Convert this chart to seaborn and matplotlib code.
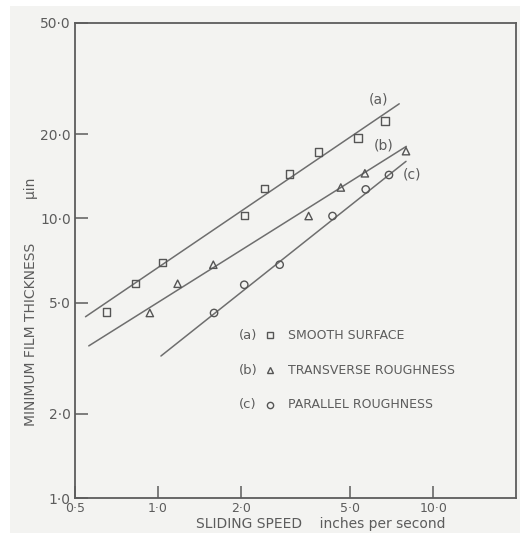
import matplotlib
matplotlib.use("Agg")
import matplotlib.pyplot as plt
from matplotlib.patches import Rectangle
from matplotlib.ticker import FixedLocator, NullLocator
import numpy as np
import pandas as pd
import seaborn as sns

# Measured points: sliding speed (in/s) and minimum film thickness (µin)
speed_smooth = [0.65, 0.83, 1.04, 2.06, 2.44, 3.0, 3.84, 5.33, 6.68]
thick_smooth = [4.63, 5.84, 6.95, 10.25, 12.8, 14.4, 17.3, 19.4, 22.3]
speed_trans = [0.935, 1.18, 1.59, 3.53, 4.62, 5.65, 7.97]
thick_trans = [4.59, 5.84, 6.83, 10.2, 12.9, 14.5, 17.4]
speed_para = [1.60, 2.06, 2.77, 4.31, 5.69, 6.91]
thick_para = [4.59, 5.79, 6.83, 10.2, 12.7, 14.3]

# Straight-line fits (end points) for each surface
fit_a_speed = [0.546, 7.53]
fit_a_thick = [4.45, 25.7]
fit_b_speed = [0.561, 7.99]
fit_b_thick = [3.50, 18.1]
fit_c_speed = [1.026, 7.97]
fit_c_thick = [3.22, 16.0]

x_ticks = [0.5, 1.0, 2.0, 5.0, 10.0]
x_tick_labels = ["0·5", "1·0", "2·0", "5·0", "10·0"]
y_ticks = [1.0, 2.0, 5.0, 10.0, 20.0, 50.0]
y_tick_labels = ["1·0", "2·0", "5·0", "10·0", "20·0", "50·0"]

series = ["(a)", "(b)", "(c)"]
series_names = ["SMOOTH SURFACE", "TRANSVERSE ROUGHNESS", "PARALLEL ROUGHNESS"]
series_markers = ["s", "^", "o"]

points = pd.concat([
    pd.DataFrame({"speed": speed_smooth, "thickness": thick_smooth, "surface": series[0]}),
    pd.DataFrame({"speed": speed_trans, "thickness": thick_trans, "surface": series[1]}),
    pd.DataFrame({"speed": speed_para, "thickness": thick_para, "surface": series[2]}),
], ignore_index=True)
fits = pd.concat([
    pd.DataFrame({"speed": fit_a_speed, "thickness": fit_a_thick, "surface": series[0]}),
    pd.DataFrame({"speed": fit_b_speed, "thickness": fit_b_thick, "surface": series[1]}),
    pd.DataFrame({"speed": fit_c_speed, "thickness": fit_c_thick, "surface": series[2]}),
], ignore_index=True)

sns.set_theme(style="white")
plt.rcParams["font.family"] = ["DejaVu Sans"]

ink = "#5c5c5c"
paper = "#f3f3f1"

fig = plt.figure(figsize=(5.2, 5.33), dpi=100)
fig.patch.set_facecolor("white")
fig.patches.append(Rectangle((10 / 520, -0.1), 1.2, 1.1 - 6 / 533, transform=fig.transFigure,
                             facecolor=paper, edgecolor="none", zorder=-10))
ax = fig.add_axes([75 / 520, 35 / 533, 441 / 520, 475 / 533])
ax.set_facecolor(paper)

for name in series:
    sns.lineplot(data=fits[fits["surface"] == name], x="speed", y="thickness",
                 sort=False, estimator=None, color="#6e6e6e", linewidth=1.1, ax=ax)
for name, mk in zip(series, series_markers):
    sns.scatterplot(data=points[points["surface"] == name], x="speed", y="thickness",
                    marker=mk, s=28, facecolor="none", edgecolor="#555555",
                    linewidth=1.0, ax=ax, zorder=3)

ax.set_xscale("log")
ax.set_yscale("log")
ax.set_xlim(0.5, 20)
ax.set_ylim(1.0, 50)

ax.xaxis.set_major_locator(FixedLocator(x_ticks))
ax.xaxis.set_minor_locator(NullLocator())
ax.set_xticklabels(x_tick_labels)
ax.yaxis.set_major_locator(FixedLocator(y_ticks))
ax.yaxis.set_minor_locator(NullLocator())
ax.set_yticklabels(y_tick_labels)

ax.tick_params(axis="both", direction="in", length=9, width=1.1, color=ink,
               labelcolor=ink)
ax.tick_params(axis="x", pad=3, labelsize=9)
ax.tick_params(axis="y", pad=3, labelsize=10)
ax.tick_params(left=True, bottom=True)

for sp in ax.spines.values():
    sp.set_color(ink)
    sp.set_linewidth(1.3)

ax.set_xlabel("SLIDING SPEED    inches per second", color=ink, fontsize=10)
ax.xaxis.set_label_coords(0.558, -0.041)
ax.set_ylabel("MINIMUM FILM THICKNESS          µin", color=ink, fontsize=10)
ax.yaxis.set_label_coords(-0.084, 0.414)

# Curve tags at the ends of the fitted lines
ax.text(6.35, 26.6, "(a)", color=ink, fontsize=10, ha="center", va="center")
ax.text(6.63, 18.2, "(b)", color=ink, fontsize=10, ha="center", va="center")
ax.text(8.38, 14.4, "(c)", color=ink, fontsize=10, ha="center", va="center")

# Key
key_rows = [0.343, 0.269, 0.196]
for tag, label, mk, yy in zip(series, series_names, series_markers, key_rows):
    ax.text(0.372, yy, tag, transform=ax.transAxes, color=ink, fontsize=9.5,
            ha="left", va="center")
    ax.plot([0.443], [yy], marker=mk, markersize=4.5, markerfacecolor="none",
            markeredgecolor="#555555", markeredgewidth=1.0, linestyle="none",
            transform=ax.transAxes)
    ax.text(0.483, yy, label, transform=ax.transAxes, color=ink, fontsize=9,
            ha="left", va="center")

legend = ax.get_legend()
if legend is not None:
    legend.remove()

fig.savefig("out.png", dpi=100, facecolor=fig.get_facecolor())
